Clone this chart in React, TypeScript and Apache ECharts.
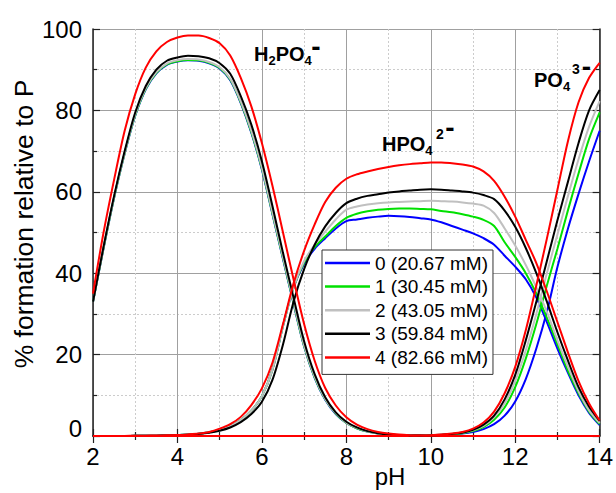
import React, { useEffect, useRef } from "react";
import * as echarts from "echarts";

// pH sampling positions
const pH = [
  2, 2.25, 2.5, 2.75, 3, 3.25, 3.5, 3.75, 4, 4.25, 4.5, 4.75, 5, 5.25, 5.5, 5.75,
  6, 6.25, 6.5, 6.75, 7, 7.25, 7.5, 7.75, 8, 8.25, 8.5, 8.75, 9, 9.25, 9.5, 9.75,
  10, 10.25, 10.5, 10.75, 11, 11.25, 11.5, 11.75, 12, 12.25, 12.5, 12.75, 13, 13.25, 13.5, 13.75, 14,
];

const seriesNames = ["0 (20.67 mM)", "1 (30.45 mM)", "2 (43.05 mM)", "3 (59.84 mM)", "4 (82.66 mM)"];
const seriesColors = ["#0000ff", "#00e000", "#c0c0c0", "#000000", "#ff0000"];

// H2PO4- (%)
const h2po4_0 = [33, 46.1, 58.5, 69.4, 78.7, 85.2, 89.1, 91.2, 92, 92.3, 92.2, 91.6, 90.3, 87.4, 81.8, 74.5, 65.5, 54.5, 43.5, 32.5, 22, 14.3, 8.9, 5.4, 3.2, 1.9, 1.1, 0.6, 0.35, 0.2, 0.12, 0.07, 0.04, 0, 0, 0, 0, 0, 0, 0, 0, 0, 0, 0, 0, 0, 0, 0, 0];
const h2po4_1 = [33, 46.2, 58.6, 69.5, 78.8, 85.3, 89.2, 91.3, 92.1, 92.4, 92.3, 91.7, 90.4, 87.6, 82, 74.7, 65.7, 54.7, 43.7, 32.7, 22.1, 14.4, 9, 5.5, 3.2, 1.9, 1.1, 0.6, 0.35, 0.2, 0.12, 0.07, 0.04, 0, 0, 0, 0, 0, 0, 0, 0, 0, 0, 0, 0, 0, 0, 0, 0];
const h2po4_2 = [33, 46.3, 58.7, 69.6, 79, 85.5, 89.4, 91.5, 92.3, 92.6, 92.5, 91.9, 90.6, 87.8, 82.2, 75, 66, 55, 44, 33, 22.3, 14.6, 9.1, 5.6, 3.3, 2, 1.1, 0.6, 0.35, 0.2, 0.12, 0.07, 0.04, 0, 0, 0, 0, 0, 0, 0, 0, 0, 0, 0, 0, 0, 0, 0, 0];
const h2po4_3 = [33, 46.5, 59, 70, 79.5, 86, 90, 92.2, 93, 93.4, 93.3, 92.8, 91.6, 89, 83.5, 76.5, 67.5, 56.5, 45, 34, 23.3, 15.2, 9.5, 5.8, 3.5, 2.1, 1.2, 0.7, 0.4, 0.25, 0.15, 0.1, 0.05, 0, 0, 0, 0, 0, 0, 0, 0, 0, 0, 0, 0, 0, 0, 0, 0];
const h2po4_4 = [35, 50, 63, 75, 84, 90.5, 94.5, 96.8, 97.9, 98.4, 98.4, 97.8, 96.5, 93.5, 88, 81, 72, 61.5, 50, 38.5, 27.5, 18.5, 11.8, 7.5, 4.6, 2.8, 1.7, 1, 0.6, 0.35, 0.2, 0.1, 0.05, 0, 0, 0, 0, 0, 0, 0, 0, 0, 0, 0, 0, 0, 0, 0, 0];

// HPO4 2- (%)
const hpo4_0 = [0, 0, 0, 0.02, 0.04, 0.06, 0.09, 0.13, 0.2, 0.35, 0.55, 0.9, 1.5, 2.4, 3.9, 6.2, 9.8, 16.3, 27, 36.5, 42.3, 46, 48.6, 51, 52.8, 53.2, 53.6, 53.9, 54.1, 54, 53.8, 53.5, 53.2, 52.5, 51.6, 50.7, 49.8, 48.6, 47, 44.3, 41.6, 38.5, 34, 28, 21.5, 15.5, 10, 5.7, 2.7];
const hpo4_1 = [0, 0, 0, 0.02, 0.04, 0.06, 0.09, 0.13, 0.2, 0.35, 0.55, 0.9, 1.5, 2.4, 3.9, 6.2, 9.8, 16.3, 27, 36.5, 42.6, 46.4, 49, 51.6, 53.6, 54.6, 55.2, 55.6, 55.8, 55.9, 55.9, 55.8, 55.7, 55.3, 55, 54.5, 53.9, 53.1, 51.6, 47.6, 44, 40, 35, 29, 22.5, 16, 10.5, 6, 2.9];
const hpo4_2 = [0, 0, 0, 0.02, 0.04, 0.06, 0.09, 0.13, 0.2, 0.35, 0.55, 0.9, 1.5, 2.4, 3.9, 6.2, 9.8, 16.3, 27, 36.5, 43, 47, 50.2, 53.2, 55.6, 56.4, 56.9, 57.2, 57.4, 57.5, 57.6, 57.7, 57.8, 57.7, 57.6, 57.4, 57.1, 56.6, 54.8, 51, 46.8, 42, 36.5, 30.5, 23.5, 17, 11, 6.3, 3.2];
const hpo4_3 = [0, 0, 0, 0.02, 0.04, 0.06, 0.09, 0.13, 0.18, 0.3, 0.5, 0.8, 1.3, 2.1, 3.4, 5.4, 8.4, 13.8, 22.5, 33, 41, 47, 51.5, 54.8, 57.2, 58.3, 59, 59.4, 59.8, 60.1, 60.3, 60.5, 60.6, 60.5, 60.3, 60.1, 59.8, 59.2, 58.2, 55.4, 51.4, 46.2, 40, 33, 25.5, 18.5, 12, 7.2, 3.7];
const hpo4_4 = [0, 0, 0, 0.02, 0.05, 0.08, 0.12, 0.16, 0.22, 0.38, 0.6, 1, 1.8, 2.9, 4.7, 7.6, 11.7, 18, 27.5, 37.5, 45.5, 52, 57.5, 61, 63.2, 64.3, 65, 65.6, 66.1, 66.5, 66.8, 67, 67.2, 67.2, 67, 66.7, 66.2, 65, 62.7, 58.8, 53.9, 48.2, 42.5, 35.5, 28, 20.5, 13.5, 8, 3.8];

// PO4 3- (%)
const po4_0 = [0, 0, 0, 0, 0, 0, 0, 0, 0, 0, 0, 0, 0, 0, 0, 0, 0, 0, 0, 0, 0, 0, 0, 0, 0, 0, 0, 0, 0, 0, 0.02, 0.05, 0.1, 0.2, 0.4, 0.6, 1, 1.7, 2.9, 5, 8.5, 14, 21.5, 30.5, 41.5, 51, 59.5, 67.5, 75];
const po4_1 = [0, 0, 0, 0, 0, 0, 0, 0, 0, 0, 0, 0, 0, 0, 0, 0, 0, 0, 0, 0, 0, 0, 0, 0, 0, 0, 0, 0, 0, 0, 0.02, 0.06, 0.12, 0.25, 0.45, 0.7, 1.2, 2.2, 4, 7, 12, 19, 27.5, 37, 46, 55.5, 64.5, 73, 79.5];
const po4_2 = [0, 0, 0, 0, 0, 0, 0, 0, 0, 0, 0, 0, 0, 0, 0, 0, 0, 0, 0, 0, 0, 0, 0, 0, 0, 0, 0, 0, 0, 0, 0.03, 0.07, 0.15, 0.3, 0.5, 0.8, 1.4, 2.5, 4.6, 8, 13.5, 21, 30, 40, 49.5, 59, 68, 76, 82.3];
const po4_3 = [0, 0, 0, 0, 0, 0, 0, 0, 0, 0, 0, 0, 0, 0, 0, 0, 0, 0, 0, 0, 0, 0, 0, 0, 0, 0, 0, 0, 0, 0, 0.03, 0.07, 0.15, 0.3, 0.5, 0.8, 1.5, 2.8, 5, 9, 15, 23.5, 33, 43, 53, 62.5, 72, 80, 85];
const po4_4 = [0, 0, 0, 0, 0, 0, 0, 0, 0, 0, 0, 0, 0, 0, 0, 0, 0, 0, 0, 0, 0, 0, 0, 0, 0, 0, 0, 0, 0, 0, 0.04, 0.1, 0.2, 0.35, 0.6, 1, 1.8, 3.3, 6, 10.5, 17, 26, 37, 48.5, 60.5, 72.5, 82, 88, 91.7];

const h2po4 = [h2po4_0, h2po4_1, h2po4_2, h2po4_3, h2po4_4];
const hpo4 = [hpo4_0, hpo4_1, hpo4_2, hpo4_3, hpo4_4];
const po4 = [po4_0, po4_1, po4_2, po4_3, po4_4];

const FONT = "'Liberation Sans', Arial, Helvetica, sans-serif";

export default function App() {
  const ref = useRef<HTMLDivElement>(null);

  useEffect(() => {
    if (!ref.current) return;
    const chart = echarts.init(ref.current, undefined, { renderer: "svg" });

    const series: any[] = [];
    for (let k = 0; k < seriesNames.length; k++) {
      [h2po4[k], hpo4[k], po4[k]].forEach((arr) => {
        series.push({
          type: "line",
          name: seriesNames[k],
          data: pH.map((x, i) => [x, arr[i]]),
          symbol: "none",
          smooth: 0.3,
          lineStyle: { color: seriesColors[k], width: 2 },
          itemStyle: { color: seriesColors[k] },
          xAxisIndex: 0,
          yAxisIndex: 0,
        });
      });
    }

    const axisLine = { show: true, lineStyle: { color: "#222", width: 1.5 } };
    const tick = { show: true, inside: true, length: 7, lineStyle: { color: "#222", width: 1.2 } };
    const minor = { show: true, splitNumber: 2, length: 4, lineStyle: { color: "#222", width: 1.2 } };
    const mainRich = { fontSize: 20, fontWeight: "bold", fontFamily: FONT, lineHeight: 26, color: "#000" };
    const subRich = { fontSize: 13, fontWeight: "bold", fontFamily: FONT, lineHeight: 14, verticalAlign: "bottom", color: "#000" };
    const dash = (x: number, y: number) => ({
      type: "text",
      x,
      y,
      z: 100,
      style: { text: "-", fontSize: 28, fontWeight: "bold", fontFamily: FONT, fill: "#000", align: "center", verticalAlign: "middle" },
    });
    const sup = (t: string, x: number, y: number) => ({
      type: "text",
      x,
      y,
      z: 100,
      style: { text: t, fontSize: 14, fontWeight: "bold", fontFamily: FONT, fill: "#000", align: "center", verticalAlign: "middle" },
    });

    const option: any = {
      animation: false,
      backgroundColor: "#fff",
      grid: { left: 93, right: 13, top: 29, bottom: 57, containLabel: false },
      xAxis: [
        {
          type: "value",
          min: 2,
          max: 14,
          interval: 2,
          axisLine,
          axisTick: tick,
          minorTick: minor,
          axisLabel: { fontSize: 24, color: "#000", fontFamily: FONT, margin: 8 },
          splitLine: { show: true, lineStyle: { color: "#a0a0a0", width: 1 } },
          minorSplitLine: { show: true, lineStyle: { color: "#cccccc", width: 1, type: [2, 2] } },
        },
        {
          type: "value",
          position: "top",
          min: 2,
          max: 14,
          interval: 2,
          axisLine,
          axisTick: tick,
          minorTick: minor,
          axisLabel: { show: false },
          splitLine: { show: false },
        },
      ],
      yAxis: [
        {
          type: "value",
          min: 0,
          max: 100,
          interval: 20,
          axisLine,
          axisTick: tick,
          minorTick: minor,
          axisLabel: {
            fontSize: 24,
            color: "#000",
            fontFamily: FONT,
            margin: 11,
            formatter: (v: number) => (v === 0 ? "{z|0}" : String(v)),
            rich: { z: { fontSize: 24, color: "#000", fontFamily: FONT, padding: [0, 0, 16, 0] } },
          },
          splitLine: { show: true, lineStyle: { color: "#a0a0a0", width: 1 } },
          minorSplitLine: { show: true, lineStyle: { color: "#cccccc", width: 1, type: [2, 2] } },
        },
        {
          type: "value",
          position: "right",
          min: 0,
          max: 100,
          interval: 20,
          axisLine,
          axisTick: tick,
          minorTick: minor,
          axisLabel: { show: false },
          splitLine: { show: false },
        },
      ],
      legend: {
        data: seriesNames,
        orient: "vertical",
        left: 322,
        top: 250,
        icon: "rect",
        itemWidth: 45,
        itemHeight: 2.5,
        itemGap: 3.6,
        padding: [3, 5, 7, 3],
        borderColor: "#333",
        borderWidth: 1,
        backgroundColor: "#fff",
        selectedMode: false,
        textStyle: { fontSize: 19, lineHeight: 20, color: "#000", fontFamily: FONT },
      },
      graphic: [
        {
          type: "text",
          x: 24,
          y: 224,
          rotation: Math.PI / 2,
          style: {
            text: "% formation relative to P",
            fontSize: 26.5,
            fontFamily: FONT,
            fill: "#000",
            align: "center",
            verticalAlign: "middle",
          },
        },
        {
          type: "text",
          x: 390,
          y: 476,
          style: {
            text: "pH",
            fontSize: 24,
            fontFamily: FONT,
            fill: "#000",
            align: "center",
            verticalAlign: "middle",
          },
        },
        {
          type: "text",
          x: 254,
          y: 41,
          z: 100,
          style: { text: "{m|H}{s|2}{m|PO}{s|4}", rich: { m: mainRich, s: subRich } },
        },
        dash(316, 46),
        {
          type: "text",
          x: 382,
          y: 131,
          z: 100,
          style: { text: "{m|HPO}{s|4}", rich: { m: mainRich, s: subRich } },
        },
        sup("2", 440, 134),
        dash(450, 127.5),
        {
          type: "text",
          x: 534,
          y: 67,
          z: 100,
          style: { text: "{m|PO}{s|4}", rich: { m: mainRich, s: subRich } },
        },
        sup("3", 576, 69),
        dash(586.5, 66),
      ],
      series,
    };

    chart.setOption(option);
    return () => chart.dispose();
  }, []);

  return <div ref={ref} style={{ position: "absolute", left: 0, top: 0, width: 616, height: 493 }} />;
}
